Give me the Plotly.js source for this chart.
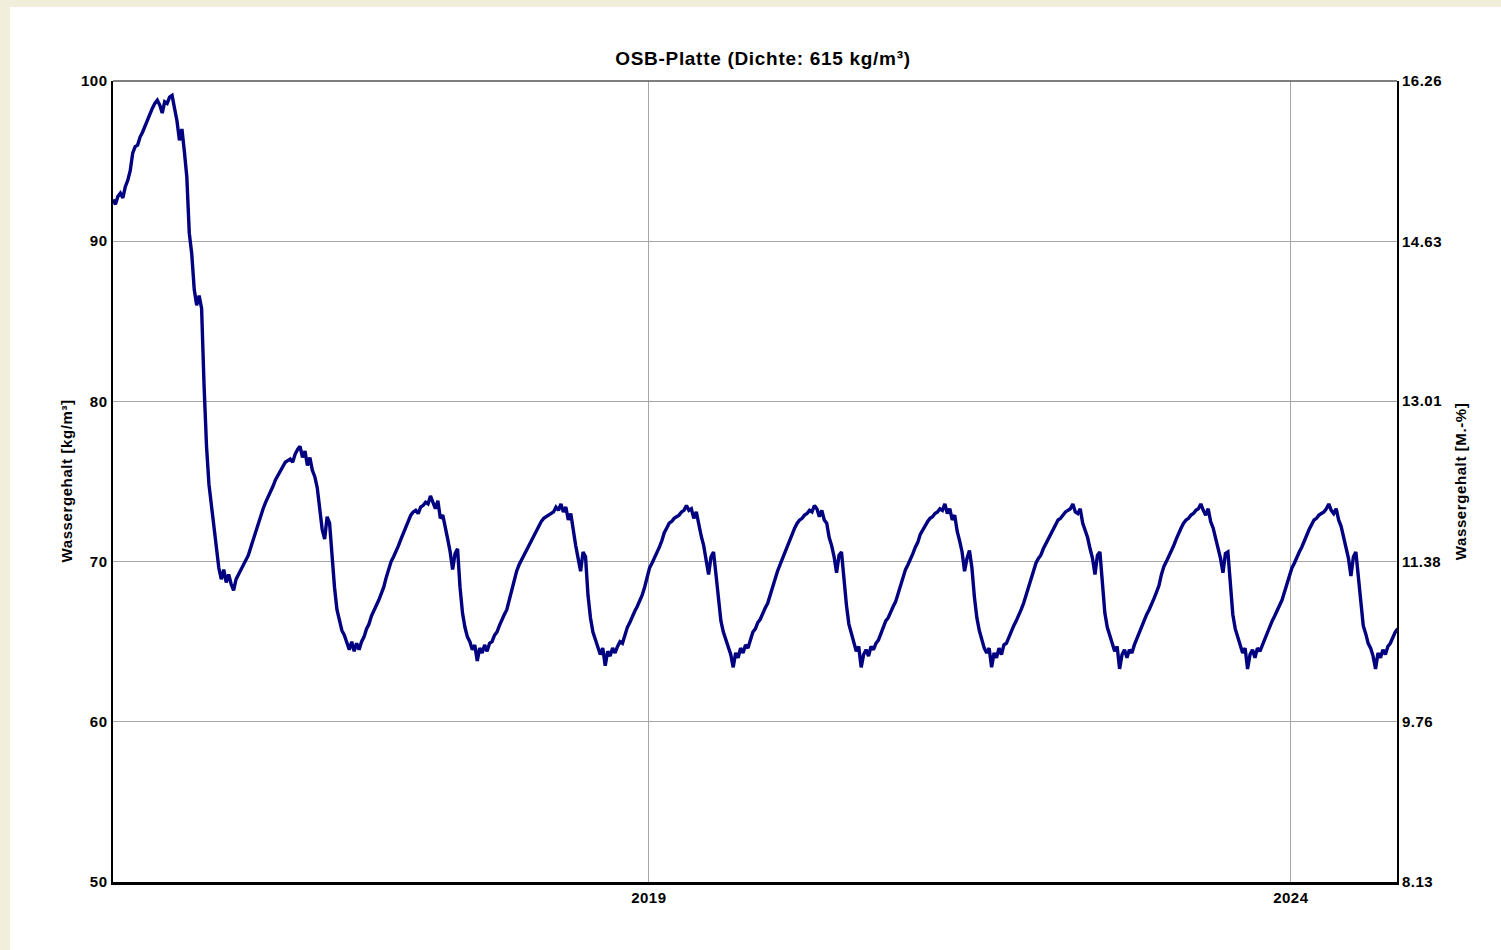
<!DOCTYPE html>
<html>
<head>
<meta charset="utf-8">
<script src="https://cdn.plot.ly/plotly-3.0.1.min.js"></script>
<style>
  html, body { margin: 0; padding: 0; background: #f2eedc; width: 1501px; height: 950px; overflow: hidden; }
  #chart { position: absolute; left: 10px; top: 7px; width: 1491px; height: 943px; background: #ffffff; }
  #chart .gtitle { letter-spacing: 0.7px; }
  #chart .xtick text, #chart .ytick text, #chart .y2tick text { letter-spacing: 0.5px; }
  #chart .annotation-text { letter-spacing: 0.6px; }
</style>
</head>
<body>
<div id="chart"></div>
<script>
// Sampling of the simulated series: weekly values starting 2014-10-30
const startDatum = [2014, 9, 30];
const schrittTage = 7;

// Wassergehalt [kg/m³], weekly
const jahr1 = [92.6, 92.3, 92.8, 93.0, 92.7, 93.4, 93.8, 94.4, 95.5, 95.9, 96.0, 96.5, 96.8,
  97.2, 97.6, 97.9, 98.3, 98.6, 98.8, 98.5, 98.0, 98.7, 98.6, 99.0, 99.1, 98.3,
  97.5, 96.3, 97.0, 95.6, 94.0, 90.5, 89.2, 87.0, 86.0, 86.6, 85.8, 81.0, 77.2,
  74.8, 73.5, 72.0, 70.8, 69.6, 68.9, 69.5, 68.7, 69.2, 68.6, 68.2, 68.9, 69.2];
const jahr2 = [69.5, 69.8, 70.0, 70.4, 70.9, 71.4, 71.9, 72.4, 72.8, 73.3, 73.7, 74.0, 74.3,
  74.7, 75.1, 75.4, 75.7, 76.0, 76.2, 76.3, 76.4, 76.2, 76.7, 77.0, 77.2, 76.5,
  76.9, 76.0, 76.5, 75.7, 75.3, 74.6, 73.3, 72.0, 71.4, 72.8, 72.4, 70.1, 68.4,
  67.0, 66.3, 65.7, 65.4, 65.0, 64.5, 65.0, 64.4, 64.9, 64.5, 65.0, 65.3, 65.8];
const jahr3 = [66.1, 66.6, 66.9, 67.3, 67.6, 68.0, 68.4, 69.0, 69.6, 70.0, 70.3, 70.6, 71.0,
  71.4, 71.8, 72.2, 72.6, 72.9, 73.1, 73.2, 73.0, 73.4, 73.5, 73.7, 73.6, 74.1,
  73.7, 73.3, 73.8, 72.7, 72.9, 72.0, 71.4, 70.6, 69.5, 70.5, 70.8, 68.4, 66.8,
  65.9, 65.3, 65.0, 64.5, 64.8, 63.8, 64.6, 64.3, 64.8, 64.4, 64.9, 65.0, 65.4];
const jahr4 = [65.6, 66.0, 66.4, 66.7, 67.0, 67.6, 68.3, 68.9, 69.4, 69.8, 70.1, 70.4, 70.8,
  71.1, 71.4, 71.7, 72.0, 72.2, 72.5, 72.7, 72.8, 72.9, 73.0, 73.1, 73.4, 73.2,
  73.6, 73.1, 73.4, 72.6, 73.0, 71.9, 71.0, 70.2, 69.4, 70.6, 70.3, 67.9, 66.5,
  65.6, 65.1, 64.7, 64.2, 64.6, 63.5, 64.4, 64.1, 64.6, 64.3, 64.7, 65.0, 64.9];
const jahr5 = [65.4, 65.9, 66.2, 66.6, 66.9, 67.2, 67.5, 67.9, 68.4, 69.0, 69.6, 69.9, 70.2,
  70.5, 70.9, 71.3, 71.8, 72.1, 72.4, 72.5, 72.7, 72.8, 72.9, 73.1, 73.2, 73.5,
  73.2, 73.3, 72.7, 73.1, 72.2, 71.6, 71.0, 70.2, 69.2, 70.3, 70.6, 69.2, 67.6,
  66.3, 65.6, 65.1, 64.6, 64.2, 63.4, 64.3, 64.0, 64.6, 64.3, 64.8, 64.6, 65.1];
const jahr6 = [65.6, 65.8, 66.2, 66.4, 66.8, 67.1, 67.4, 67.9, 68.5, 69.0, 69.4, 69.8, 70.2,
  70.6, 70.9, 71.3, 71.8, 72.1, 72.4, 72.6, 72.7, 72.9, 73.0, 73.2, 73.1, 73.5,
  73.3, 72.8, 73.2, 72.6, 72.4, 71.5, 71.0, 70.3, 69.3, 70.4, 70.6, 68.9, 67.3,
  66.1, 65.5, 64.9, 64.4, 64.7, 63.4, 64.2, 64.5, 64.1, 64.7, 64.5, 64.9, 65.1];
const jahr7 = [65.5, 65.8, 66.3, 66.5, 66.9, 67.2, 67.5, 68.0, 68.6, 69.1, 69.5, 69.8, 70.1,
  70.5, 70.9, 71.2, 71.7, 72.0, 72.3, 72.5, 72.7, 72.8, 73.0, 73.1, 73.3, 73.2,
  73.6, 73.0, 73.3, 72.6, 72.9, 71.9, 71.3, 70.6, 69.4, 70.2, 70.7, 69.6, 67.8,
  66.5, 65.7, 65.1, 64.6, 64.3, 64.6, 63.4, 64.3, 64.0, 64.6, 64.2, 64.8, 64.9];
const jahr8 = [65.3, 65.7, 66.0, 66.3, 66.6, 67.0, 67.4, 67.9, 68.5, 69.0, 69.5, 69.9, 70.2,
  70.4, 70.8, 71.1, 71.4, 71.8, 72.1, 72.4, 72.6, 72.7, 72.9, 73.1, 73.2, 73.3,
  73.6, 73.1, 73.0, 73.3, 72.4, 72.0, 71.5, 70.8, 70.2, 69.2, 70.4, 70.6, 68.7,
  66.8, 65.9, 65.3, 64.9, 64.4, 64.7, 63.3, 64.2, 64.5, 64.0, 64.5, 64.3, 64.8];
const jahr9 = [65.2, 65.5, 66.0, 66.4, 66.7, 67.0, 67.3, 67.7, 68.1, 68.5, 69.2, 69.7, 70.0,
  70.3, 70.7, 71.0, 71.4, 71.8, 72.1, 72.4, 72.6, 72.7, 72.9, 73.0, 73.2, 73.3,
  73.6, 73.2, 72.9, 73.3, 72.5, 72.1, 71.5, 70.9, 70.2, 69.3, 70.5, 70.6, 68.4,
  66.7, 65.8, 65.3, 64.8, 64.3, 64.6, 63.3, 64.2, 64.5, 64.0, 64.6, 64.4, 64.8];
const jahr10 = [65.1, 65.5, 65.9, 66.3, 66.6, 66.9, 67.2, 67.6, 68.1, 68.6, 69.2, 69.6, 69.9,
  70.3, 70.6, 70.9, 71.3, 71.7, 72.0, 72.3, 72.6, 72.7, 72.9, 73.0, 73.1, 73.3,
  73.6, 73.2, 73.0, 73.3, 72.6, 72.2, 71.5, 70.9, 70.2, 69.1, 70.3, 70.6, 69.0,
  67.3, 66.0, 65.5, 64.9, 64.6, 64.1, 63.3, 64.3, 64.0, 64.5, 64.2, 64.7, 64.9,
  65.3, 65.6, 65.8];

// Axis ticks
const xTickDaten = ['2019-01-01', '2024-01-01'];
const xTickTexte = ['2019', '2024'];
const linksTicks = [50, 60, 70, 80, 90, 100];
const rechtsTicks = [8.13, 9.76, 11.38, 13.01, 14.63, 16.26];
const rohdichte = 615; // kg/m³

const wassergehalt = [].concat(jahr1, jahr2, jahr3, jahr4, jahr5, jahr6, jahr7, jahr8, jahr9, jahr10);
const t0 = Date.UTC(startDatum[0], startDatum[1], startDatum[2]);
const daten = wassergehalt.map((_, i) => new Date(t0 + i * schrittTage * 86400000).toISOString().slice(0, 10));
const masseProzent = wassergehalt.map(v => v / rohdichte * 100);

const FAM = 'Liberation Sans, Arial, sans-serif';
const tickFont = { family: FAM, size: 15, color: '#000000', weight: 'bold' };

const traces = [
  {
    x: daten, y: wassergehalt, type: 'scatter', mode: 'lines',
    line: { color: '#000080', width: 3.4 }, hoverinfo: 'skip', showlegend: false
  },
  {
    x: daten, y: masseProzent, type: 'scatter', mode: 'lines', yaxis: 'y2',
    line: { color: 'rgba(0,0,0,0)', width: 0 }, hoverinfo: 'skip', showlegend: false
  }
];

const layout = {
  width: 1491, height: 943,
  margin: { l: 103, r: 104, t: 74, b: 68 },
  paper_bgcolor: '#ffffff', plot_bgcolor: '#ffffff',
  showlegend: false,
  title: {
    text: 'OSB-Platte (Dichte: 615 kg/m³)',
    font: { family: FAM, size: 19, color: '#000000', weight: 'bold' },
    xref: 'container', yref: 'container', x: 0.505, xanchor: 'center', y: 1 - 51 / 943, yanchor: 'middle'
  },
  xaxis: {
    type: 'date', range: ['2014-10-30', '2024-10-29'],
    tickmode: 'array', tickvals: xTickDaten, ticktext: xTickTexte,
    showgrid: true, gridcolor: '#a6a6a6', gridwidth: 1,
    showline: true, linecolor: '#000000', linewidth: 2.5,
    zeroline: false, ticks: '', tickfont: tickFont, fixedrange: true
  },
  yaxis: {
    range: [50, 100], tickmode: 'array', tickvals: linksTicks,
    showgrid: true, gridcolor: '#a6a6a6', gridwidth: 1,
    showline: true, linecolor: '#000000', linewidth: 2.5,
    zeroline: false, ticks: '', tickfont: tickFont, fixedrange: true
  },
  yaxis2: {
    overlaying: 'y', side: 'right',
    range: [50 / rohdichte * 100, 100 / rohdichte * 100],
    tickmode: 'array', tickvals: rechtsTicks, ticktext: rechtsTicks.map(v => v.toFixed(2)),
    showgrid: false, showline: true, linecolor: '#000000', linewidth: 2,
    zeroline: false, ticks: '', tickfont: tickFont, fixedrange: true
  },
  shapes: [
    { type: 'line', xref: 'paper', yref: 'paper', x0: 0, x1: 1, y0: 1, y1: 1,
      line: { color: '#555555', width: 1.5 } }
  ],
  annotations: [
    { text: 'Wassergehalt [kg/m³]', xref: 'paper', yref: 'paper',
      x: (56 - 103) / 1284, y: 0.5, xanchor: 'center', yanchor: 'middle',
      textangle: -90, showarrow: false,
      font: { family: FAM, size: 15, color: '#000000', weight: 'bold' } },
    { text: 'Wassergehalt [M.-%]', xref: 'paper', yref: 'paper',
      x: (1450 - 103) / 1284, y: 0.5, xanchor: 'center', yanchor: 'middle',
      textangle: -90, showarrow: false,
      font: { family: FAM, size: 15, color: '#000000', weight: 'bold' } }
  ]
};

Plotly.newPlot('chart', traces, layout, { staticPlot: true, displayModeBar: false });
</script>
</body>
</html>
